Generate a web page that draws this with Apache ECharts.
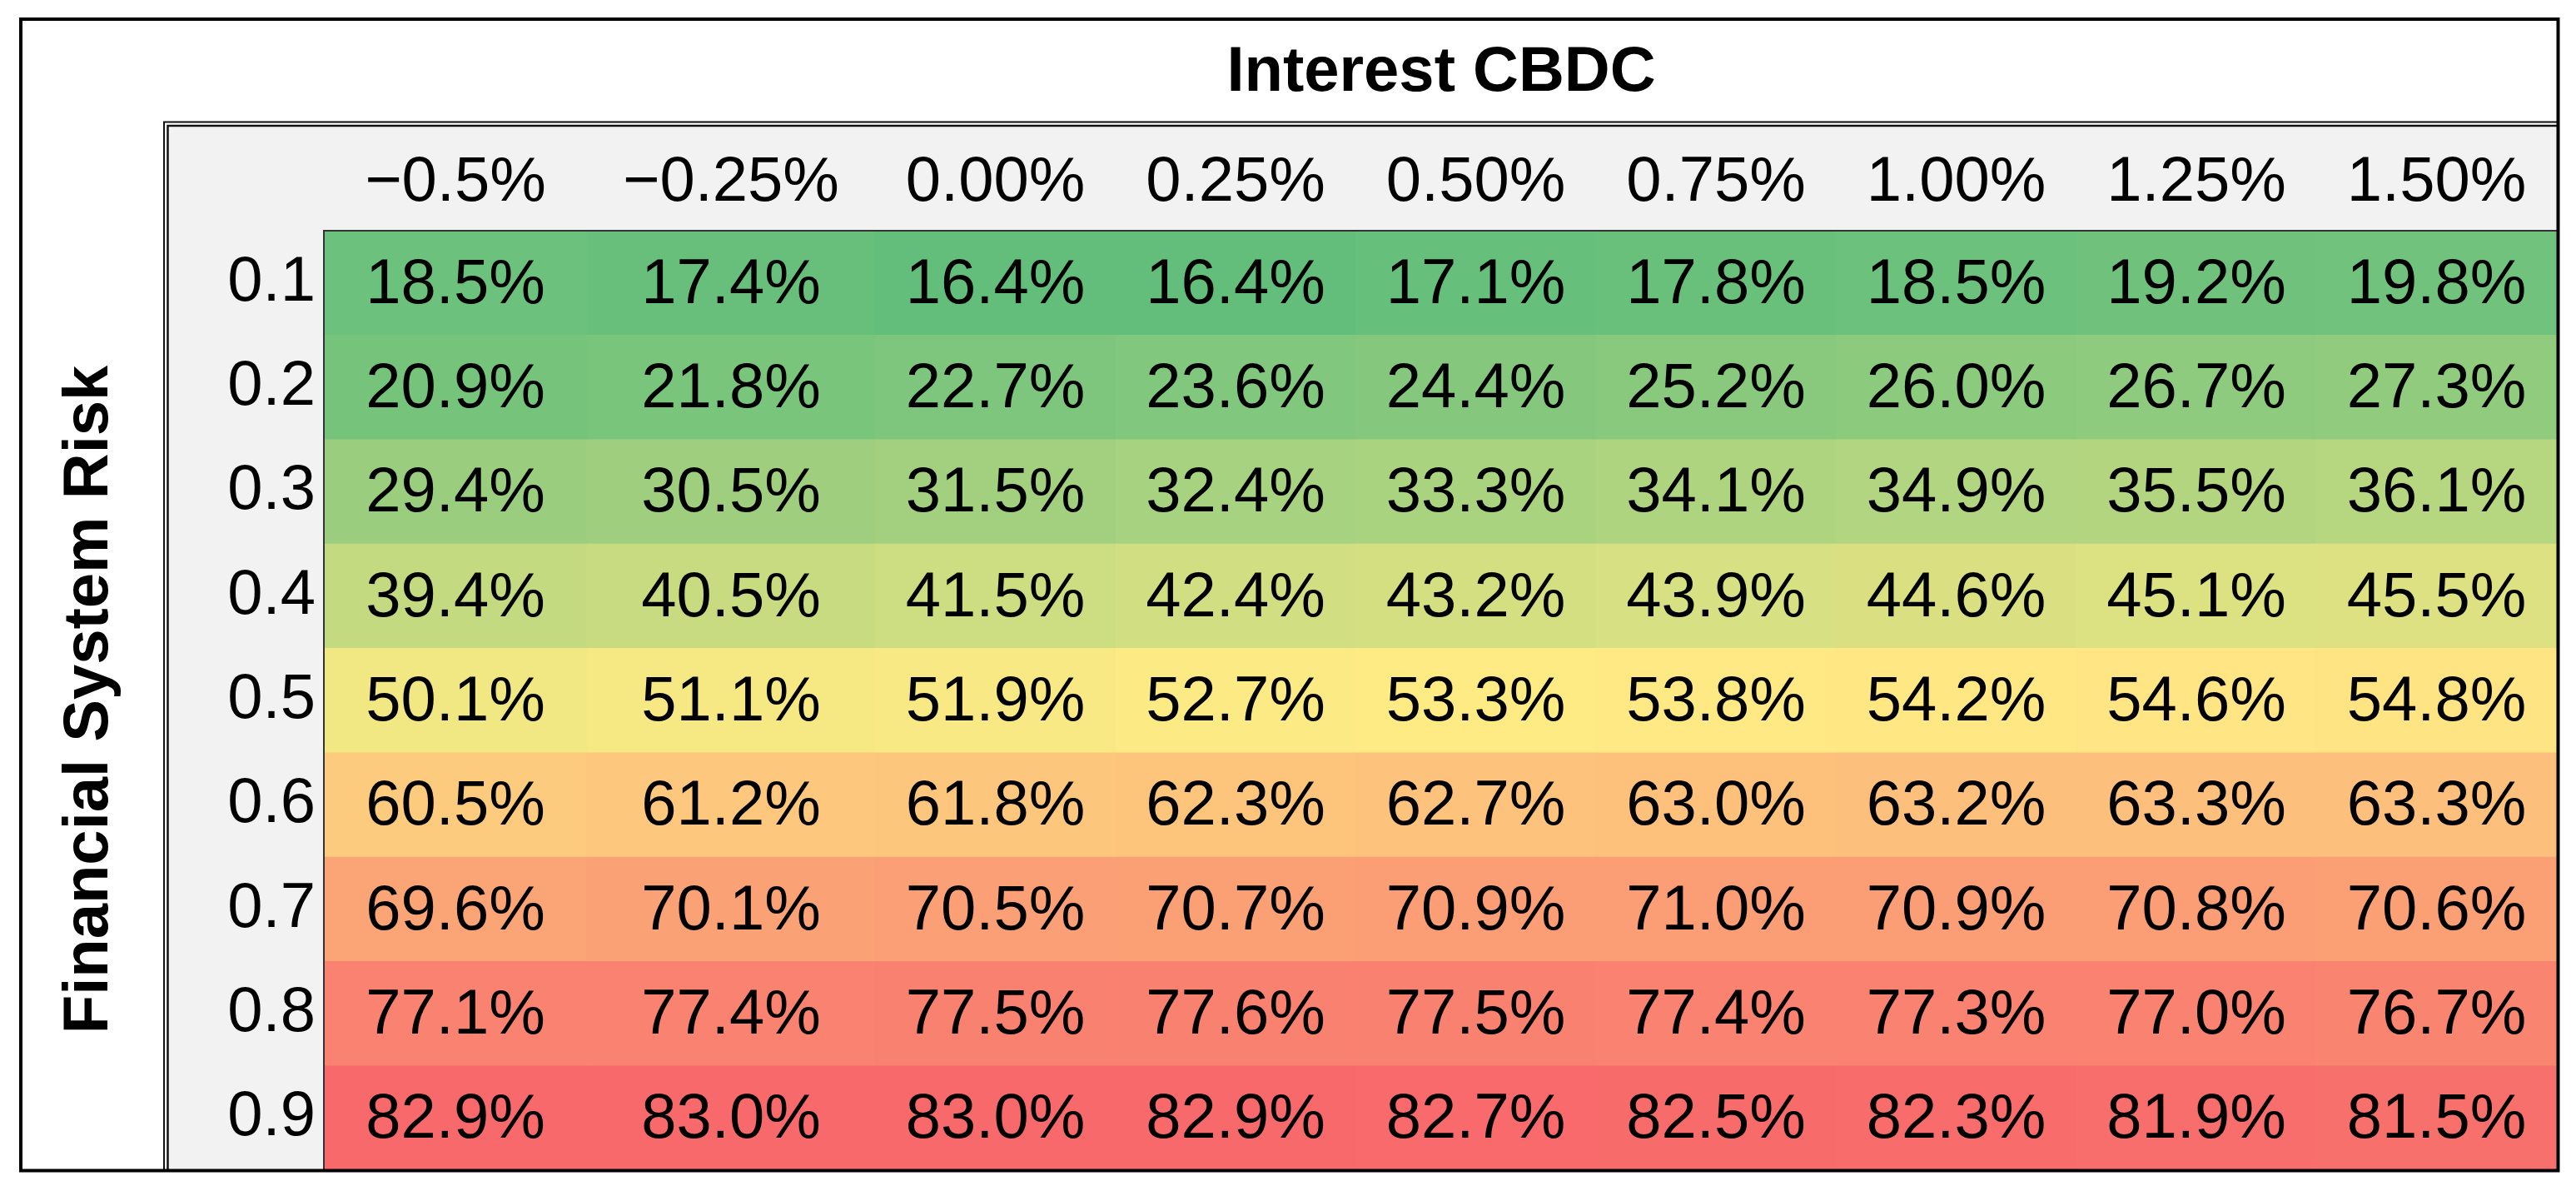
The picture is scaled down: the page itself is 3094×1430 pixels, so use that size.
<!DOCTYPE html>
<html>
<head>
<meta charset="utf-8">
<script src="https://cdn.jsdelivr.net/npm/echarts@6/dist/echarts.min.js"></script>
<style>
  html, body { margin: 0; padding: 0; background: #ffffff; }
  #chart { width: 3094px; height: 1430px; }
</style>
</head>
<body>
<div id="chart"></div>
<script>
const interestLabels = ['\u22120.5%', '\u22120.25%', '0.00%', '0.25%', '0.50%', '0.75%', '1.00%', '1.25%', '1.50%'];
const riskLabels = ['0.1', '0.2', '0.3', '0.4', '0.5', '0.6', '0.7', '0.8', '0.9'];

const risk01 = [18.5, 17.4, 16.4, 16.4, 17.1, 17.8, 18.5, 19.2, 19.8];
const risk02 = [20.9, 21.8, 22.7, 23.6, 24.4, 25.2, 26.0, 26.7, 27.3];
const risk03 = [29.4, 30.5, 31.5, 32.4, 33.3, 34.1, 34.9, 35.5, 36.1];
const risk04 = [39.4, 40.5, 41.5, 42.4, 43.2, 43.9, 44.6, 45.1, 45.5];
const risk05 = [50.1, 51.1, 51.9, 52.7, 53.3, 53.8, 54.2, 54.6, 54.8];
const risk06 = [60.5, 61.2, 61.8, 62.3, 62.7, 63.0, 63.2, 63.3, 63.3];
const risk07 = [69.6, 70.1, 70.5, 70.7, 70.9, 71.0, 70.9, 70.8, 70.6];
const risk08 = [77.1, 77.4, 77.5, 77.6, 77.5, 77.4, 77.3, 77.0, 76.7];
const risk09 = [82.9, 83.0, 83.0, 82.9, 82.7, 82.5, 82.3, 81.9, 81.5];

const rows = [risk01, risk02, risk03, risk04, risk05, risk06, risk07, risk08, risk09];

const xTitle = 'Interest CBDC';
const yTitle = 'Financial System Risk';

// ---- Layout (column widths of the table, px) ----
const tableLeft = 389, tableTop = 277, tableHeight = 1128;
const colWidthsPx = [316, 346, 289, 288, 289, 288, 289, 288, 289];

// ---- Three-colour scale (green - yellow at median - red) ----
const allValues = [].concat(...rows);
const sorted = allValues.slice().sort((a, b) => a - b);
const vMin = sorted[0];
const vMax = sorted[sorted.length - 1];
const pos = (sorted.length - 1) * 0.5;
const vMid = sorted[Math.floor(pos)] + (sorted[Math.ceil(pos)] - sorted[Math.floor(pos)]) * (pos - Math.floor(pos));

const cLow = [0x63, 0xBE, 0x7B];
const cMid = [0xFF, 0xEB, 0x84];
const cHigh = [0xF8, 0x69, 0x6B];
function mix(a, b, t) {
  return 'rgb(' + a.map((v, k) => Math.round(v + (b[k] - v) * t)).join(',') + ')';
}
function scaleColor(v) {
  if (v <= vMid) return mix(cLow, cMid, (v - vMin) / (vMid - vMin));
  return mix(cMid, cHigh, (v - vMid) / (vMax - vMid));
}

const FONT = "'Liberation Sans', Arial, Helvetica, sans-serif";

// one grid per table column (columns have different widths)
const grids = [], xAxes = [], yAxes = [], series = [];
let cum = tableLeft;
colWidthsPx.forEach((w, j) => {
  grids.push({ left: cum, top: tableTop, width: w, height: tableHeight, containLabel: false });
  cum += w;
  xAxes.push({
    type: 'category', gridIndex: j, position: 'top',
    data: [interestLabels[j]],
    axisLine: { show: false }, axisTick: { show: false }, splitLine: { show: false },
    axisLabel: { fontSize: 76, color: '#000', fontFamily: FONT, margin: 19, interval: 0 }
  });
  yAxes.push({
    type: 'category', gridIndex: j, inverse: true,
    data: riskLabels,
    show: j === 0,
    axisLine: { show: false }, axisTick: { show: false }, splitLine: { show: false },
    axisLabel: { fontSize: 76, color: '#000', fontFamily: FONT, margin: 10, interval: 0 }
  });
  series.push({
    type: 'heatmap', xAxisIndex: j, yAxisIndex: j,
    data: rows.map((row, i) => ({ value: [0, i, row[j]], itemStyle: { color: scaleColor(row[j]) } })),
    itemStyle: { borderWidth: 0 },
    emphasis: { disabled: true },
    label: {
      show: true, fontSize: 76, color: '#000', fontFamily: FONT, offset: [0, 3],
      formatter: p => p.value[2].toFixed(1) + '%'
    }
  });
});

const chart = echarts.init(document.getElementById('chart'), null, { renderer: 'canvas' });

chart.setOption({
  animation: false,
  backgroundColor: '#ffffff',
  grid: grids,
  xAxis: xAxes,
  yAxis: yAxes,
  graphic: [
    // grey panel behind header row and row labels
    { type: 'rect', z: -10, silent: true,
      shape: { x: 202.5, y: 152.5, width: 3071 - 202.5, height: 1404 - 152.5 },
      style: { fill: '#f2f2f2' } },
    // double line (outer thin, inner)
    { type: 'polyline', z: 50, silent: true,
      shape: { points: [[197, 1405], [197, 146.5], [3072, 146.5]] },
      style: { stroke: '#111', lineWidth: 2, fill: null } },
    { type: 'polyline', z: 50, silent: true,
      shape: { points: [[201.5, 1405], [201.5, 151], [3072, 151]] },
      style: { stroke: '#111', lineWidth: 2.5, fill: null } },
    // thin border on top and left of the cell block
    { type: 'polyline', z: 50, silent: true,
      shape: { points: [[389, 1405], [389, 277], [3072, 277]] },
      style: { stroke: '#333', lineWidth: 2, fill: null } },
    // outer frame
    { type: 'rect', z: 100, silent: true,
      shape: { x: 25, y: 23, width: 3047.5, height: 1382.5 },
      style: { stroke: '#000', lineWidth: 4, fill: null } },
    // titles
    { type: 'text', z: 60, silent: true,
      x: 1731, y: 88,
      style: { text: xTitle, font: 'bold 76px ' + FONT, fill: '#000', align: 'center', verticalAlign: 'middle' } },
    { type: 'text', z: 60, silent: true,
      x: 108, y: 840, rotation: Math.PI / 2,
      style: { text: yTitle, font: 'bold 76px ' + FONT, fill: '#000', align: 'center', verticalAlign: 'middle' } }
  ],
  series: series
});
</script>
</body>
</html>
